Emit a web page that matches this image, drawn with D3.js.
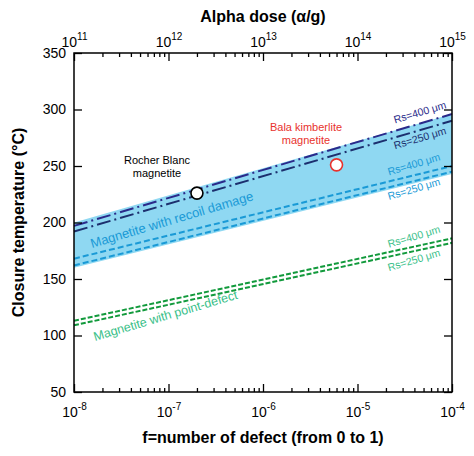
<!DOCTYPE html><html><head><meta charset="utf-8"><script src="https://cdn.jsdelivr.net/npm/d3@7"></script>
<style>body{margin:0;background:#fff}text{font-family:Helvetica,Arial,"Liberation Sans",sans-serif}</style></head><body><svg width="474" height="456"></svg><script>
const fRange=[1e-8,1e-4];
const doseRange=[1e11,1e15];
const yTicks=[50,100,150,200,250,300,350];
// lines: [T at f=1e-8, T at f=1e-4]
const navy400=[197,296], navy250=[192,290];
const blue400=[168,250], blue250=[162,245];
const green400=[113,186], green250=[109,182];
const bandLow=[160,243], bandHigh=[200,296];
const samples=[{name:"Rocher Blanc",f:2e-7,T:226,c:"#000"},{name:"Bala",f:6e-6,T:251,c:"#e8322d"}];
const svg=d3.select("svg");
const L=74,R=452,T=53,B=392;
const x=d3.scaleLog().domain(fRange).range([L,R]);
const x2=d3.scaleLog().domain(doseRange).range([L,R]);
const y=d3.scaleLinear().domain([50,350]).range([B,T]);
const pts=a=>[[fRange[0],a[0]],[fRange[1],a[1]]];
const ln=d3.line().x(d=>x(d[0])).y(d=>y(d[1]));
svg.append("path").attr("d",ln([[1e-8,bandLow[0]],[1e-4,bandLow[1]],[1e-4,bandHigh[1]],[1e-8,bandHigh[0]]])+"Z").attr("fill","#8fd8f2");
function dl(a,c,dash,w){svg.append("path").attr("d",ln(pts(a))).attr("stroke",c).attr("stroke-width",w||2).attr("fill","none").attr("stroke-dasharray",dash);}
dl(navy400,"#2a2a8a","14,4,2,4");dl(navy250,"#1c2f6e","14,4,2,4");
dl(blue400,"#1a9ad6","6,3");dl(blue250,"#1a9ad6","6,3");
dl(green400,"#129a3c","5,2");dl(green250,"#129a3c","5,2");
samples.forEach(s=>svg.append("circle").attr("cx",x(s.f)).attr("cy",y(s.T)).attr("r",6).attr("fill","#fff").attr("stroke",s.c).attr("stroke-width",1.6));
const ang=-Math.atan((y(navy400[0])-y(navy400[1]))/(R-L))*180/Math.PI;
function lab(t,xx,yy,c,fs,rot){svg.append("text").attr("transform",`translate(${xx},${yy}) rotate(${rot==null?ang:rot})`).attr("fill",c).attr("font-size",fs).attr("text-anchor","end").text(t);}
lab("Rs=400 μm",447,y(296)-6,"#2a2a8a",10.5);lab("Rs=250 μm",447,y(290)+13,"#1c2f6e",10.5);
lab("Rs=400 μm",441,y(250)-6,"#1a9ad6",10.5);lab("Rs=250 μm",441,y(245)+13,"#1a9ad6",10.5);
lab("Rs=400 μm",441,y(186)-6,"#3bbf8a",10.5);lab("Rs=250 μm",441,y(182)+13,"#3bbf8a",10.5);
svg.append("text").attr("transform",`translate(92,248) rotate(${ang})`).attr("fill","#1a9ad6").attr("font-size",13).text("Magnetite with recoil damage");
svg.append("text").attr("transform",`translate(95,341) rotate(${ang})`).attr("fill","#3bbf8a").attr("font-size",12.5).text("Magnetite with point-defect");
svg.append("text").attr("x",157).attr("y",164).attr("fill","#000").attr("font-size",11).attr("text-anchor","middle").text("Rocher Blanc");
svg.append("text").attr("x",157).attr("y",177).attr("fill","#000").attr("font-size",11).attr("text-anchor","middle").text("magnetite");
svg.append("text").attr("x",306).attr("y",131).attr("fill","#e8322d").attr("font-size",11).attr("text-anchor","middle").text("Bala kimberlite");
svg.append("text").attr("x",306).attr("y",144).attr("fill","#e8322d").attr("font-size",11).attr("text-anchor","middle").text("magnetite");
const sup=(g,tt)=>{g.selectAll(".tick text").remove();g.selectAll(".tick").each(function(d){const e=Math.round(Math.log10(d));if(Math.abs(Math.log10(d)-e)>1e-6)return;const t=d3.select(this).append("text").attr("fill","#000").attr("text-anchor","middle").attr("font-size",14).attr("y",tt);t.append("tspan").text("10");t.append("tspan").attr("dy",-7).attr("font-size",10).text(e);});};
const logTicks=dom=>{const r=[];for(let e=Math.log10(dom[0]);e<Math.log10(dom[1]);e++)for(let k=1;k<10;k++)r.push(k*10**e);r.push(dom[1]);return r;};
const tickSize=d=>Math.abs(Math.log10(d)-Math.round(Math.log10(d)))<1e-6?8:4;
function style(g){g.select(".domain").remove();g.selectAll("line").attr("stroke","#000").attr("stroke-width",1.3);}
const gb=svg.append("g").attr("transform",`translate(0,${B})`).call(d3.axisBottom(x).tickValues(logTicks(fRange)).tickSizeOuter(0));
gb.selectAll(".tick line").attr("y2",d=>-tickSize(d));style(gb);sup(gb,25);
const gt=svg.append("g").attr("transform",`translate(0,${T})`).call(d3.axisTop(x2).tickValues(logTicks(doseRange)).tickSizeOuter(0));
gt.selectAll(".tick line").attr("y2",d=>tickSize(d));style(gt);sup(gt,-6);
const gl=svg.append("g").attr("transform",`translate(${L},0)`).call(d3.axisLeft(y).tickValues(yTicks).tickSize(-8).tickPadding(8));
style(gl);gl.selectAll("text").attr("font-size",14).attr("fill","#000");
const gr=svg.append("g").attr("transform",`translate(${R},0)`).call(d3.axisRight(y).tickValues(yTicks).tickSize(-8).tickFormat(""));style(gr);
svg.append("rect").attr("x",L).attr("y",T).attr("width",R-L).attr("height",B-T).attr("fill","none").attr("stroke","#000").attr("stroke-width",1.5);
svg.append("text").attr("x",(L+R)/2).attr("y",22).attr("text-anchor","middle").attr("font-size",16).attr("font-weight","bold").text("Alpha dose (α/g)");
svg.append("text").attr("x",(L+R)/2).attr("y",443).attr("text-anchor","middle").attr("font-size",16).attr("font-weight","bold").text("f=number of defect (from 0 to 1)");
svg.append("text").attr("transform",`translate(24,${(T+B)/2}) rotate(-90)`).attr("text-anchor","middle").attr("font-size",16).attr("font-weight","bold").text("Closure temperature (°C)");
</script></body></html>
